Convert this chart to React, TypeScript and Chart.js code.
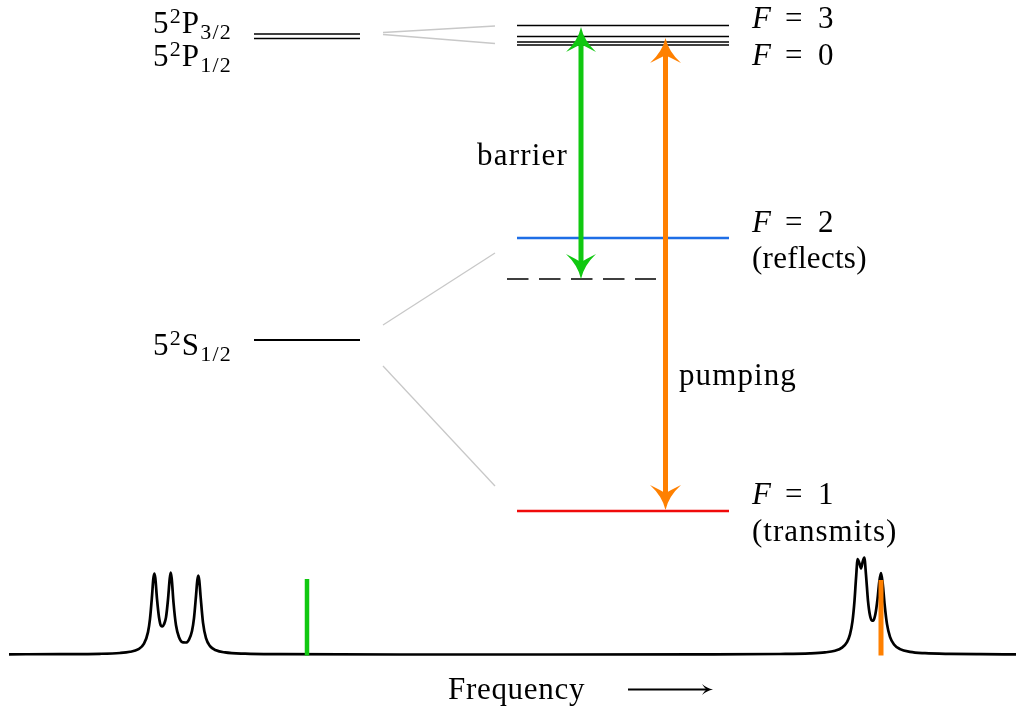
import React, { useEffect, useRef } from 'react';
import { Chart, registerables } from 'chart.js';

Chart.register(...registerables);

// ---------------- data (diagram units: x to the right, y downward) ----------------
const fineLevelX = [254, 360];
const p32LevelY = 34;
const p12LevelY = 38.5;
const s12LevelY = 340;

const hyperfineX = [517, 729];
const excitedHyperfineY = [25.5, 36.5, 42, 45]; // F=3, F=2, F=1, F=0
const groundF2Y = 238;
const groundF1Y = 511;

const virtualLevelX = [507, 656];
const virtualLevelY = 279;

const connectorFromX = 383;
const connectorToX = 495;
const connectorFromY = [32.5, 34.5, 325, 366];
const connectorToY = [26, 43.5, 253, 486];

const barrierArrowX = 581;
const barrierArrowY = [27, 279];
const pumpingArrowX = 665.5;
const pumpingArrowY = [38, 510];

const spectrumX = [
  9, 60, 100, 120, 130, 138, 144, 148, 150, 152, 153.3, 154.3, 155.3, 157, 159, 161, 162.5, 164, 166, 168,
  169.7, 170.7, 171.7, 173.5, 176, 179, 183, 186, 189, 192, 194, 196, 197.3, 198.3, 199.3, 200.6, 203, 206,
  210, 216, 225, 245, 280, 400, 550, 700, 780, 810, 825, 835, 842, 847, 850, 852.5, 854.5, 856, 857.7,
  859.3, 861, 862.7, 864.3, 866, 868, 870, 872, 873.5, 875.5, 877.5, 879.3, 881, 882.7, 884.5, 887, 890,
  894, 900, 910, 925, 950, 980, 1016,
];
const spectrumY = [
  654.3, 654.1, 653.8, 653, 651.8, 649.4, 643.7, 632.1, 618.8, 596.2, 579, 573.5, 578, 598.8, 617.2,
  625.8, 626.5, 624.3, 617.4, 599.5, 579, 572.5, 578.5, 602.5, 625.3, 637.2, 642.4, 642.5, 639.6, 631, 618.1,
  595.9, 580.5, 575.5, 580.7, 596.5, 622.6, 638.2, 646.1, 650.3, 652.4, 653.7, 654.2, 654.5, 654.5, 654.4,
  654, 653.4, 652.4, 650.7, 647.6, 642.1, 634.4, 621.1, 600.8, 578.7, 559, 562.9, 568.4, 561.7, 557.7, 574.8,
  600.9, 615.6, 620.7, 620.2, 613.6, 599.2, 581.6, 573.2, 583.5, 603.3, 624.1, 636.8, 644.5, 649.1, 651.9,
  653.2, 653.9, 654.2, 654.3,
];

const barrierLineX = 307;
const barrierLineY = [579, 655.5];
const pumpLineX = 881;
const pumpLineY = [580, 655.5];

const freqArrowX = [628, 713];
const freqArrowY = 689.5;

// ---------------- text ----------------
const fontPx = 31;
const fontFamily = '"Liberation Serif", "DejaVu Serif", serif';

type Part = { t: string; s?: 'sup' | 'sub' | 'it'; dx?: number };
type Label = { x: number; y: number; align: 'left' | 'right'; parts: Part[]; spacing: number };

const fineLabels: Label[] = [
  { x: 232, y: 33, align: 'right', spacing: 1.2, parts: [{ t: '5' }, { t: '2', s: 'sup' }, { t: 'P' }, { t: '3/2', s: 'sub' }] },
  { x: 232, y: 66, align: 'right', spacing: 1.2, parts: [{ t: '5' }, { t: '2', s: 'sup' }, { t: 'P' }, { t: '1/2', s: 'sub' }] },
  { x: 232, y: 355, align: 'right', spacing: 1.2, parts: [{ t: '5' }, { t: '2', s: 'sup' }, { t: 'S' }, { t: '1/2', s: 'sub' }] },
];

const mathLabel = (x: number, y: number, value: string): Label => ({
  x, y, align: 'left', spacing: 0,
  parts: [{ t: 'F', s: 'it', dx: 0 }, { t: '=', dx: 33 }, { t: value, dx: 66 }],
});

const hyperfineLabels: Label[] = [
  mathLabel(752, 28, '3'),
  mathLabel(752, 65, '0'),
  mathLabel(752, 232, '2'),
  mathLabel(752, 504, '1'),
];

const wordLabels: Label[] = [
  { x: 752, y: 268, align: 'left', spacing: 0.3, parts: [{ t: '(reflects)' }] },
  { x: 752, y: 541, align: 'left', spacing: 1.0, parts: [{ t: '(transmits)' }] },
  { x: 477, y: 165, align: 'left', spacing: 1.2, parts: [{ t: 'barrier' }] },
  { x: 679, y: 385, align: 'left', spacing: 1.1, parts: [{ t: 'pumping' }] },
  { x: 448, y: 699, align: 'left', spacing: 0.7, parts: [{ t: 'Frequency' }] },
];

const allLabels = [...fineLabels, ...hyperfineLabels, ...wordLabels];

// ---------------- colours ----------------
const black = '#000000';
const grey = '#c8c8c8';
const green = '#10c810';
const orange = '#ff8000';
const blue = '#1e6ee6';
const red = '#f00a0a';

// ---------------- helpers ----------------
const seg = (x0: number, x1: number, y0: number, y1: number) => [
  { x: x0, y: y0 },
  { x: x1, y: y1 },
];

function lineDs(data: any[], color: string, width: number, extra: any = {}) {
  return {
    type: 'scatter',
    data,
    showLine: true,
    borderColor: color,
    backgroundColor: color,
    borderWidth: width,
    pointRadius: 0,
    pointHoverRadius: 0,
    clip: false,
    borderCapStyle: 'butt',
    tension: 0,
    ...extra,
  };
}

function headPath(ctx: CanvasRenderingContext2D, tx: number, ty: number, dx: number, dy: number, L: number, W: number, notch: number) {
  const px = -dy;
  const py = dx;
  const P = (u: number, v: number): [number, number] => [tx + dx * u + px * v, ty + dy * u + py * v];
  ctx.beginPath();
  ctx.moveTo(...P(0, 0));
  ctx.quadraticCurveTo(...P(0.55 * L, 0.2 * W), ...P(L, W));
  ctx.quadraticCurveTo(...P(0.8 * L, 0.35 * W), ...P(notch * L, 0));
  ctx.quadraticCurveTo(...P(0.8 * L, -0.35 * W), ...P(L, -W));
  ctx.quadraticCurveTo(...P(0.55 * L, -0.2 * W), ...P(0, 0));
  ctx.closePath();
  ctx.fill();
}

function drawLabel(ctx: CanvasRenderingContext2D, chart: any, lab: Label) {
  const X = chart.scales.x.getPixelForValue(lab.x);
  const Y = chart.scales.y.getPixelForValue(lab.y);
  const fontOf = (p: Part) => {
    if (p.s === 'sup' || p.s === 'sub') return `${Math.round(fontPx * 0.7)}px ${fontFamily}`;
    if (p.s === 'it') return `italic ${fontPx}px ${fontFamily}`;
    return `${fontPx}px ${fontFamily}`;
  };
  ctx.save();
  ctx.fillStyle = black;
  ctx.textBaseline = 'alphabetic';
  ctx.textAlign = 'left';
  (ctx as any).letterSpacing = `${lab.spacing}px`;
  const widths = lab.parts.map((p) => {
    ctx.font = fontOf(p);
    return ctx.measureText(p.t).width;
  });
  const total = widths.reduce((a, b) => a + b, 0);
  let cursor = lab.align === 'right' ? X - total : X;
  lab.parts.forEach((p, i) => {
    ctx.font = fontOf(p);
    const px = p.dx !== undefined ? X + p.dx : cursor;
    let py = Y;
    if (p.s === 'sup') py = Y - 10.5;
    if (p.s === 'sub') py = Y + 6;
    ctx.fillText(p.t, px, py);
    cursor = px + widths[i];
  });
  ctx.restore();
}

const extrasPlugin = {
  id: 'diagramExtras',
  afterDatasetsDraw(chart: any) {
    const ctx: CanvasRenderingContext2D = chart.ctx;
    chart.data.datasets.forEach((ds: any, i: number) => {
      if (!ds.arrow) return;
      const meta = chart.getDatasetMeta(i);
      const a = meta.data[0];
      const b = meta.data[meta.data.length - 1];
      const { len, halfW, notch, shaft, both } = ds.arrow;
      const dist = Math.hypot(b.x - a.x, b.y - a.y);
      const ux = (b.x - a.x) / dist;
      const uy = (b.y - a.y) / dist;
      ctx.save();
      ctx.strokeStyle = ds.arrow.color;
      ctx.fillStyle = ds.arrow.color;
      ctx.lineWidth = shaft;
      ctx.lineCap = 'butt';
      const startOff = both ? len * notch * 0.9 : 0;
      const endOff = len * notch * 0.9;
      ctx.beginPath();
      ctx.moveTo(a.x + ux * startOff, a.y + uy * startOff);
      ctx.lineTo(b.x - ux * endOff, b.y - uy * endOff);
      ctx.stroke();
      headPath(ctx, b.x, b.y, -ux, -uy, len, halfW, notch);
      if (both) headPath(ctx, a.x, a.y, ux, uy, len, halfW, notch);
      ctx.restore();
    });
    allLabels.forEach((lab) => drawLabel(ctx, chart, lab));
  },
};

export default function App() {
  const canvasRef = useRef<HTMLCanvasElement | null>(null);

  useEffect(() => {
    if (!canvasRef.current) return;

    const datasets: any[] = [];
    // bars on the spectrum (drawn on top)
    datasets.push(lineDs(seg(barrierLineX, barrierLineX, barrierLineY[0], barrierLineY[1]), green, 4.5, { order: 0 }));
    datasets.push(lineDs(seg(pumpLineX, pumpLineX, pumpLineY[0], pumpLineY[1]), orange, 5, { order: 0 }));
    // spectrum
    datasets.push(
      lineDs(
        spectrumX.map((x, i) => ({ x, y: spectrumY[i] })),
        black,
        2.7,
        { order: 1, cubicInterpolationMode: 'monotone', borderJoinStyle: 'round' }
      )
    );
    // fine-structure levels
    datasets.push(lineDs(seg(fineLevelX[0], fineLevelX[1], p32LevelY, p32LevelY), black, 1.5, { order: 2 }));
    datasets.push(lineDs(seg(fineLevelX[0], fineLevelX[1], p12LevelY, p12LevelY), black, 1.5, { order: 2 }));
    datasets.push(lineDs(seg(fineLevelX[0], fineLevelX[1], s12LevelY, s12LevelY), black, 1.8, { order: 2 }));
    // connectors
    connectorFromY.forEach((fy, i) => {
      datasets.push(lineDs(seg(connectorFromX, connectorToX, fy, connectorToY[i]), grey, 1.3, { order: 3 }));
    });
    // hyperfine levels
    excitedHyperfineY.forEach((y) => {
      datasets.push(lineDs(seg(hyperfineX[0], hyperfineX[1], y, y), black, 1.4, { order: 2 }));
    });
    datasets.push(lineDs(seg(hyperfineX[0], hyperfineX[1], groundF2Y, groundF2Y), blue, 2.5, { order: 2 }));
    datasets.push(lineDs(seg(hyperfineX[0], hyperfineX[1], groundF1Y, groundF1Y), red, 2.5, { order: 2 }));
    datasets.push(
      lineDs(seg(virtualLevelX[0], virtualLevelX[1], virtualLevelY, virtualLevelY), black, 1.4, {
        order: 2,
        borderDash: [21.5, 10.5],
      })
    );
    // arrows (drawn by plugin from the dataset points)
    datasets.push({
      type: 'scatter',
      data: seg(barrierArrowX, barrierArrowX, barrierArrowY[0], barrierArrowY[1]),
      showLine: false,
      pointRadius: 0,
      clip: false,
      arrow: { color: green, len: 25, halfW: 15, notch: 0.68, shaft: 5, both: true },
    });
    datasets.push({
      type: 'scatter',
      data: seg(pumpingArrowX, pumpingArrowX, pumpingArrowY[0], pumpingArrowY[1]),
      showLine: false,
      pointRadius: 0,
      clip: false,
      arrow: { color: orange, len: 25, halfW: 15.5, notch: 0.68, shaft: 5, both: true },
    });
    datasets.push({
      type: 'scatter',
      data: seg(freqArrowX[0], freqArrowX[1], freqArrowY, freqArrowY),
      showLine: false,
      pointRadius: 0,
      clip: false,
      arrow: { color: black, len: 11, halfW: 5.5, notch: 0.6, shaft: 1.8, both: false },
    });

    const chart = new Chart(canvasRef.current, {
      type: 'scatter',
      data: { datasets },
      options: {
        responsive: false,
        animation: false,
        events: [],
        layout: { padding: 0 },
        plugins: { legend: { display: false }, tooltip: { enabled: false }, title: { display: false } },
        scales: {
          x: { type: 'linear', min: 0, max: 1016, display: false },
          y: { type: 'linear', min: 0, max: 711, reverse: true, display: false },
        },
      },
      plugins: [extrasPlugin],
    } as any);

    return () => chart.destroy();
  }, []);

  return (
    <div style={{ position: 'fixed', left: 0, top: 0, width: 1016, height: 711, background: '#ffffff' }}>
      <canvas ref={canvasRef} width={1016} height={711} style={{ display: 'block', width: 1016, height: 711 }} />
    </div>
  );
}
